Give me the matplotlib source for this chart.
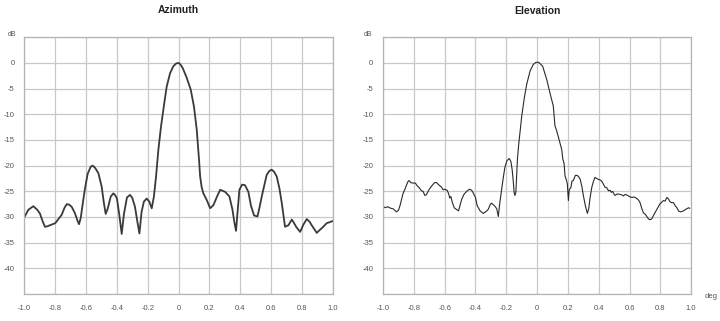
import matplotlib
matplotlib.use("Agg")
import matplotlib.pyplot as plt

plt.rcParams["font.family"] = ["Liberation Sans", "DejaVu Sans"]

# Azimuth pattern (deg, dB)
az_deg = [
    -1.0, -0.975, -0.943, -0.92, -0.90, -0.88, -0.867, -0.85, -0.834, -0.80, -0.78,
    -0.759, -0.74, -0.726, -0.71, -0.694, -0.672, -0.655, -0.646, -0.635, -0.62,
    -0.607, -0.59, -0.57, -0.557, -0.54, -0.52, -0.499, -0.485, -0.473, -0.46,
    -0.44, -0.423, -0.41, -0.40, -0.385, -0.369, -0.355, -0.335, -0.315, -0.30,
    -0.283, -0.268, -0.254, -0.24, -0.225, -0.207, -0.19, -0.174, -0.16, -0.146,
    -0.131, -0.114, -0.094, -0.077, -0.055, -0.034, -0.015, 0.0, 0.012, 0.027,
    0.053, 0.079, 0.10, 0.118, 0.133, 0.14, 0.15, 0.161, 0.183, 0.205, 0.226,
    0.25, 0.27, 0.302, 0.33, 0.35, 0.362, 0.373, 0.383, 0.395, 0.412, 0.431,
    0.453, 0.47, 0.49, 0.512, 0.525, 0.54, 0.572, 0.59, 0.605, 0.62, 0.637,
    0.655, 0.67, 0.691, 0.713, 0.735, 0.75, 0.763, 0.789, 0.81, 0.832, 0.85,
    0.864, 0.897, 0.91, 0.929, 0.962, 1.0,
]
az_db = [
    -30.0, -28.6, -27.9, -28.5, -29.3, -31.0, -31.9, -31.8, -31.6, -31.2, -30.4,
    -29.6, -28.2, -27.5, -27.6, -28.0, -29.3, -30.8, -31.4, -30.2, -27.0,
    -24.4, -21.6, -20.2, -20.0, -20.5, -21.5, -24.1, -27.2, -29.4, -28.4,
    -26.0, -25.4, -25.8, -26.4, -29.5, -33.3, -29.5, -26.2, -25.7, -26.3,
    -28.0, -30.8, -33.2, -29.0, -27.0, -26.4, -27.0, -28.3, -26.0, -22.1,
    -16.9, -12.4, -8.1, -4.6, -2.0, -0.65, -0.1, 0.0, -0.3, -1.0,
    -2.9, -5.2, -8.5, -13.0, -18.9, -22.1, -24.2, -25.4, -26.7, -28.3, -27.7,
    -26.0, -24.7, -25.1, -26.0, -28.6, -31.0, -32.7, -29.0, -24.7, -23.7, -23.8,
    -25.1, -27.8, -29.7, -29.9, -28.2, -26.0, -21.8, -21.0, -20.8, -21.2, -22.1,
    -24.5, -27.3, -31.9, -31.6, -30.5, -31.2, -31.9, -32.9, -31.5, -30.4, -30.9,
    -31.6, -33.1, -32.7, -32.2, -31.2, -30.8,
]

# Elevation pattern (deg, dB)
el_deg = [
    -1.0, -0.985, -0.97, -0.95, -0.935, -0.913, -0.90, -0.89, -0.87, -0.858,
    -0.848, -0.838, -0.831, -0.82, -0.805, -0.79, -0.779, -0.765, -0.751, -0.74,
    -0.729, -0.72, -0.70, -0.68, -0.665, -0.653, -0.64, -0.62, -0.61, -0.60,
    -0.584, -0.575, -0.567, -0.56, -0.55, -0.538, -0.525, -0.51, -0.49, -0.475,
    -0.463, -0.45, -0.437, -0.425, -0.415, -0.40, -0.389, -0.37, -0.35, -0.33,
    -0.317, -0.305, -0.296, -0.285, -0.274, -0.262, -0.252, -0.242, -0.23, -0.22,
    -0.209, -0.195, -0.181, -0.17, -0.162, -0.155, -0.149, -0.144, -0.138, -0.133,
    -0.128, -0.12, -0.116, -0.10, -0.083, -0.068, -0.046, -0.025, -0.008, 0.005,
    0.014, 0.036, 0.062, 0.083, 0.105, 0.116, 0.127, 0.137, 0.148, 0.16, 0.166,
    0.175, 0.181, 0.19, 0.196, 0.203, 0.208, 0.213, 0.22, 0.226, 0.235, 0.248,
    0.261, 0.27, 0.279, 0.29, 0.30, 0.313, 0.326, 0.335, 0.344, 0.355, 0.365,
    0.376, 0.387, 0.398, 0.41, 0.419, 0.43, 0.441, 0.452, 0.463, 0.473, 0.482,
    0.49, 0.498, 0.506, 0.52, 0.538, 0.55, 0.56, 0.572, 0.582, 0.598, 0.614,
    0.63, 0.647, 0.658, 0.668, 0.68, 0.69, 0.703, 0.716, 0.728, 0.738, 0.747,
    0.755, 0.77, 0.783, 0.796, 0.809, 0.82, 0.831, 0.842, 0.853, 0.862, 0.872,
    0.885, 0.896, 0.907, 0.92, 0.933, 0.95, 0.965, 0.983, 0.99,
]
el_db = [
    -27.9, -28.2, -28.0, -28.3, -28.4, -29.0, -28.7, -27.8, -25.4, -24.6,
    -23.8, -23.1, -22.9, -23.3, -23.4, -23.4, -23.9, -24.3, -24.9, -25.0,
    -25.8, -25.7, -24.6, -23.8, -23.3, -23.3, -23.7, -24.2, -24.7, -24.6,
    -24.8, -25.4, -26.3, -26.0, -27.2, -28.2, -28.5, -28.8, -26.6, -25.6,
    -25.2, -24.8, -24.6, -24.8, -25.3, -26.2, -27.8, -28.8, -29.3, -28.9,
    -28.5, -27.6, -27.3, -27.6, -27.9, -28.4, -29.9, -27.2, -24.5, -22.4,
    -20.3, -19.0, -18.6, -19.2, -20.8, -23.0, -25.3, -25.8, -25.2, -22.0,
    -18.8, -16.0, -14.9, -10.4, -6.8, -4.2, -1.6, -0.3, 0.1, 0.15,
    0.0, -0.65, -3.2, -5.8, -8.4, -12.3, -13.2, -14.3, -15.5, -16.9, -18.6,
    -19.6, -22.0, -22.8, -23.5, -26.8, -24.8, -24.5, -24.2, -23.0, -22.9, -21.9,
    -21.9, -22.2, -22.6, -24.0, -25.8, -27.8, -29.3, -28.4, -26.2, -24.2, -23.1,
    -22.3, -22.5, -22.7, -22.8, -23.0, -23.6, -24.2, -24.3, -24.9, -24.8, -25.2,
    -25.0, -25.5, -25.8, -25.5, -25.6, -25.7, -25.9, -25.6, -25.7, -26.0, -26.2,
    -26.1, -26.4, -26.7, -27.2, -28.4, -29.2, -29.5, -30.1, -30.5, -30.5, -30.2,
    -29.7, -28.9, -28.2, -27.5, -27.1, -26.8, -26.9, -26.2, -26.5, -27.0, -27.2,
    -27.2, -27.8, -28.2, -28.9, -29.0, -28.8, -28.5, -28.2, -28.3,
]

x_ticks = [-1.0, -0.8, -0.6, -0.4, -0.2, 0.0, 0.2, 0.4, 0.6, 0.8, 1.0]
x_labels = ["-1.0", "-0.8", "-0.6", "-0.4", "-0.2", "0", "0.2", "0.4", "0.6", "0.8", "1.0"]
y_ticks = [-45, -40, -35, -30, -25, -20, -15, -10, -5, 0, 5]
y_labels = ["", "-40", "-35", "-30", "-25", "-20", "-15", "-10", "-5", "0", ""]

fig = plt.figure(figsize=(7.2, 3.21), dpi=100)
ax_az = fig.add_axes([0.034, 0.084, 0.428, 0.80])
ax_el = fig.add_axes([0.532, 0.084, 0.428, 0.80])


def style_axes(ax):
    ax.set_xlim(-1.0, 1.0)
    ax.set_ylim(-45, 5)
    ax.set_xticks(x_ticks)
    ax.set_xticklabels(x_labels)
    ax.set_yticks(y_ticks)
    ax.set_yticklabels(y_labels)
    ax.tick_params(length=0, labelsize=5.5, labelcolor="#555555")
    ax.tick_params(axis="x", pad=8)
    ax.tick_params(axis="y", pad=7)
    ax.grid(True, color="#c8c8c8", linewidth=0.9)
    ax.set_axisbelow(True)
    for s in ax.spines.values():
        s.set_color("#b4b4b4")
        s.set_linewidth(0.9)


style_axes(ax_az)
style_axes(ax_el)

ax_az.plot(az_deg, az_db, color="#3a3a3a", linewidth=1.3)
ax_el.plot(el_deg, el_db, color="#2a2a2a", linewidth=0.8)

fig.text(178 / 720, 1 - 10 / 321, "Azimuth", ha="center", va="center",
         fontsize=7.5, fontweight="bold", color="#222222")
fig.text(537 / 720, 1 - 11 / 321, "Elevation", ha="center", va="center",
         fontsize=7.5, fontweight="bold", color="#222222")
fig.text(12 / 720, 1 - 35 / 321, "dB", ha="center", va="center", fontsize=5, color="#555555")
fig.text(368 / 720, 1 - 35 / 321, "dB", ha="center", va="center", fontsize=5, color="#555555")
fig.text(711 / 720, 1 - 296 / 321, "deg", ha="center", va="center", fontsize=5.5, color="#555555")

fig.savefig("out.png", dpi=100)
